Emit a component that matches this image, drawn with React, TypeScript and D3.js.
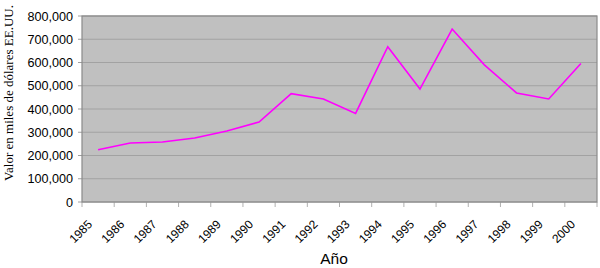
import React from "react";
import * as d3 from "d3";

const years = ["1985","1986","1987","1988","1989","1990","1991","1992","1993","1994","1995","1996","1997","1998","1999","2000"];
const values = [225000,254000,258000,275000,305000,344000,466000,443000,381000,668000,486000,744000,590000,469000,443000,596000];
const yTicks = [0,100000,200000,300000,400000,500000,600000,700000,800000];

export default function App() {
  const W = 600, H = 268;
  const left = 82, right = 597, top = 16, bottom = 202;
  const x = d3.scaleBand<string>().domain(years).range([left, right]);
  const y = d3.scaleLinear().domain([0, 800000]).range([bottom, top]);
  const line = d3.line<number>()
    .x((_, i) => (x(years[i]) as number) + x.bandwidth() / 2)
    .y((d) => y(d));
  const fmt = d3.format(",");
  const sans = "'Liberation Sans', Arial, sans-serif";
  return (
    <svg width={W} height={H} style={{ position: "absolute", left: 0, top: 0 }}>
      <rect x={0} y={0} width={W} height={H} fill="#fff" />
      <rect x={left} y={top} width={right - left} height={bottom - top} fill="#c0c0c0" />
      {yTicks.map((t) => (
        <g key={t}>
          <line x1={left} x2={right} y1={y(t)} y2={y(t)} stroke="#a2a2a2" strokeWidth={1} />
          <line x1={left - 4} x2={left} y1={y(t)} y2={y(t)} stroke="#a0a0a0" strokeWidth={1} />
          <text x={73} y={y(t)} dy="0.36em" textAnchor="end" fontFamily={sans} fontSize={12.6} fill="#000">{fmt(t)}</text>
        </g>
      ))}
      {years.map((yr) => (
        <line key={"t" + yr} x1={x(yr) as number} x2={x(yr) as number} y1={bottom} y2={bottom + 5} stroke="#b0b0b0" />
      ))}
      <line x1={right} x2={right} y1={bottom} y2={bottom + 5} stroke="#b0b0b0" />
      <rect x={left} y={top} width={right - left} height={bottom - top} fill="none" stroke="#8a8a8a" strokeWidth={1.2} />
      <path d={line(values) || ""} fill="none" stroke="#ff00ff" strokeWidth={1.6} strokeLinejoin="miter" />
      {years.map((yr) => {
        const cx = (x(yr) as number) + x.bandwidth() / 2;
        return (
          <text key={"l" + yr} transform={`translate(${cx - 8},${222}) rotate(-45)`} textAnchor="end" dy="0.35em" fontFamily={sans} fontSize={12} fill="#000">{yr}</text>
        );
      })}
      <text x={334} y={264} textAnchor="middle" fontFamily={sans} fontSize={15.5} fill="#000">Año</text>
      <text transform={`translate(13,93) rotate(-90)`} textAnchor="middle" fontFamily="'Liberation Serif', 'Times New Roman', serif" fontSize={13} fill="#000">Valor en miles de dólares EE.UU.</text>
    </svg>
  );
}
